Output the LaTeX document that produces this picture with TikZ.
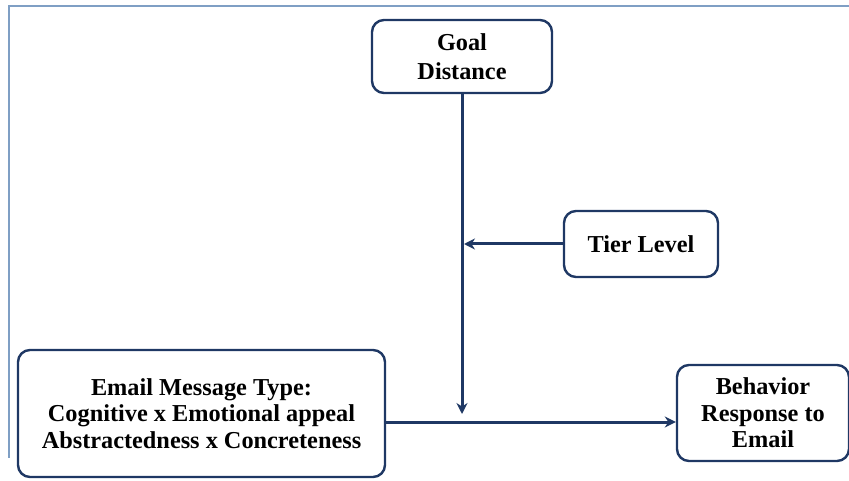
\documentclass[tikz,border=0pt]{standalone}
\usepackage{fontspec}
\setmainfont{Liberation Serif}
\usetikzlibrary{arrows.meta}
\definecolor{navy}{HTML}{1F3864}
\definecolor{frame}{HTML}{7F9FC4}
\begin{document}
\begin{tikzpicture}[x=1pt,y=-1pt,
  box/.style={draw=navy,line width=2.4pt,rounded corners=12pt,align=center,
    font=\fontsize{24.3}{26.5}\selectfont\bfseries,text=black,inner sep=0pt},
  conn/.style={draw=navy,line width=3pt,-{Stealth[length=11pt,width=11pt]}}]
\useasboundingbox (0,0) rectangle (849,481);
\draw[frame,line width=1.8pt] (849,6) -- (9,6) -- (9,458);
\node[box,minimum width=180pt,minimum height=73pt] (goal) at (462,56.5) {Goal\\[2pt]Distance};
\node[box,minimum width=154pt,minimum height=66pt] (tier) at (641,244) {Tier Level};
\node[box,minimum width=367pt,minimum height=127pt] (email) at (201.5,413.5) {Email Message Type:\\Cognitive x Emotional appeal\\Abstractedness x Concreteness};
\node[box,minimum width=172pt,minimum height=96pt] (beh) at (763,413) {Behavior\\Response to\\Email};
\coordinate (join) at (462,414);
\coordinate (mid) at (464,244);
\draw[conn] (goal.south) -- (join);
\draw[conn] (tier.west) -- (mid);
\draw[conn] (email.east |- 0,422) -- (beh.west |- 0,422);
\end{tikzpicture}
\end{document}
